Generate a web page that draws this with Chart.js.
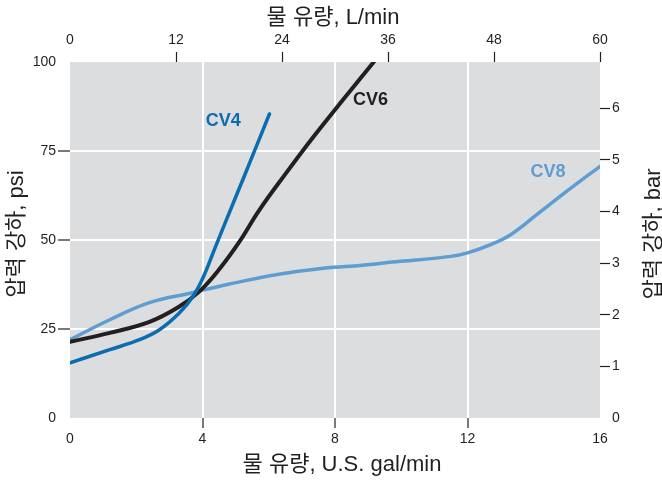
<!DOCTYPE html>
<html><head><meta charset="utf-8">
<script src="https://cdn.jsdelivr.net/npm/chart.js@4"></script>
<style>html,body{margin:0;padding:0;background:#fff}#w{width:662px;height:482px}</style>
</head><body><div id="w"><canvas id="c" width="662" height="482"></canvas></div>
<script>
// Data (x: U.S. gal/min, y: psi)
const cv4X = [0, 1.2, 2.1, 2.7, 3.3, 3.7, 4.03, 4.4, 5.0, 5.5, 6.02];
const cv4Y = [15.5, 19.2, 22, 24.8, 29.5, 34, 39.7, 48.3, 62, 73.4, 85.4];
const cv6X = [0, 1.2, 2.4, 3.3, 3.9, 4.5, 5.1, 5.7, 6.5, 7.35, 8.26, 9.17];
const cv6Y = [21.4, 23.9, 27, 31.3, 35.5, 41.7, 49.3, 58.2, 68.5, 79.0, 89.6, 100];
const cv8X = [0, 1.2, 2.4, 3.7, 4.75, 6.26, 7.77, 8.47, 9.98, 11.5, 12, 12.7, 13.3, 14.1, 15.0, 16.0];
const cv8Y = [22, 27.6, 32.4, 35.2, 37.5, 40.3, 42.2, 42.6, 44, 45.4, 46.4, 48.7, 51.5, 57.2, 63.7, 70.7];
const seriesNames = ['CV4', 'CV6', 'CV8'];
const labelX = [4.63, 9.07, 14.43];
const labelY = [83.4, 89.3, 69.0];
const bottomTicks = [0, 4, 8, 12, 16];
const leftTicks = [0, 25, 50, 75, 100];
const topTicks = [0, 12, 24, 36, 48, 60];
const rightTicks = [0, 1, 2, 3, 4, 5, 6];
const titleTop = '물 유량, L/min';
const titleBottom = '물 유량, U.S. gal/min';
const titleLeft = '압력 강하, psi';
const titleRight = '압력 강하, bar';

const colors = ['#0b6cae', '#231f20', '#5e9dd2'];
const FONT = '"Liberation Sans", Arial, "Noto Sans CJK KR", sans-serif';
const TFONT = '"Liberation Sans", "Noto Sans CJK KR", sans-serif';
const ink = '#231f20';

function pts(xs, ys) { return xs.map((x, i) => ({x: x, y: ys[i]})); }

const bgPlugin = {
  id: 'bg',
  beforeDraw(chart) {
    const {ctx, chartArea: a} = chart;
    ctx.save();
    ctx.fillStyle = '#dcdddf';
    ctx.fillRect(a.left, a.top, a.right - a.left, a.bottom - a.top);
    ctx.restore();
  },
  afterDraw(chart) {
    const ctx = chart.ctx;
    const xs = chart.scales.x, ys = chart.scales.y;
    ctx.save();
    ctx.font = 'bold 18px ' + FONT;
    ctx.textAlign = 'center';
    ctx.textBaseline = 'middle';
    seriesNames.forEach((n, i) => {
      ctx.fillStyle = colors[i];
      ctx.fillText(n, xs.getPixelForValue(labelX[i]), ys.getPixelForValue(labelY[i]));
    });
    ctx.fillStyle = ink;
    ctx.font = '22px ' + TFONT;
    ctx.fillText(titleTop, 333, 18);
    ctx.fillText(titleBottom, 342, 465);
    ctx.save();
    ctx.translate(17, 234);
    ctx.rotate(-Math.PI / 2);
    ctx.fillText(titleLeft, 0, 0);
    ctx.restore();
    ctx.save();
    ctx.translate(654, 234);
    ctx.rotate(-Math.PI / 2);
    ctx.fillText(titleRight, 0, 0);
    ctx.restore();
    ctx.restore();
  }
};

const interior = (lo, hi, c) => (ctx) => (ctx.tick && ctx.tick.value > lo && ctx.tick.value < hi) ? c : 'rgba(0,0,0,0)';
const tickFont = {family: FONT, size: 14};

new Chart(document.getElementById('c'), {
  type: 'line',
  data: {
    datasets: [
      {label: 'CV4', data: pts(cv4X, cv4Y), borderColor: colors[0], borderWidth: 3.5, xAxisID: 'x', yAxisID: 'y'},
      {label: 'CV6', data: pts(cv6X, cv6Y), borderColor: colors[1], borderWidth: 4, xAxisID: 'x', yAxisID: 'y'},
      {label: 'CV8', data: pts(cv8X, cv8Y), borderColor: colors[2], borderWidth: 3.5, xAxisID: 'x', yAxisID: 'y'}
    ]
  },
  options: {
    responsive: false,
    animation: false,
    events: [],
    layout: {padding: 0},
    elements: {
      point: {radius: 0},
      line: {tension: 0.4, fill: false, borderCapStyle: 'round', borderJoinStyle: 'round'}
    },
    plugins: {legend: {display: false}, tooltip: {enabled: false}},
    scales: {
      x: {
        type: 'linear', position: 'bottom', min: 0, max: 16,
        afterBuildTicks: s => { s.ticks = bottomTicks.map(v => ({value: v})); },
        afterFit: s => { s.height = 64; },
        border: {display: false},
        grid: {color: interior(0, 16, '#ffffff'), lineWidth: 2, tickColor: interior(0, 16, ink), tickLength: 10, tickWidth: 1.2},
        ticks: {color: ink, font: tickFont, padding: 3, maxRotation: 0}
      },
      y: {
        type: 'linear', position: 'left', min: 0, max: 100,
        afterBuildTicks: s => { s.ticks = leftTicks.map(v => ({value: v})); },
        afterFit: s => { s.width = 70; },
        border: {display: false},
        grid: {color: interior(0, 100, '#ffffff'), lineWidth: 2, tickColor: interior(0, 100, ink), tickLength: 12, tickWidth: 1.2},
        ticks: {color: ink, font: tickFont, padding: 2}
      },
      x2: {
        type: 'linear', position: 'top', min: 0, max: 60,
        afterBuildTicks: s => { s.ticks = topTicks.map(v => ({value: v})); },
        afterFit: s => { s.height = 62; },
        border: {display: false},
        grid: {drawOnChartArea: false, tickColor: interior(0, 61, ink), tickLength: 10, tickWidth: 1.2},
        ticks: {color: ink, font: tickFont, padding: 3, maxRotation: 0}
      },
      y2: {
        type: 'linear', position: 'right', min: 0, max: 6.895,
        afterBuildTicks: s => { s.ticks = rightTicks.map(v => ({value: v})); },
        afterFit: s => { s.width = 62; },
        border: {display: false},
        grid: {drawOnChartArea: false, tickColor: interior(0, 7, ink), tickLength: 10, tickWidth: 1.2},
        ticks: {color: ink, font: tickFont, padding: 2}
      }
    }
  },
  plugins: [bgPlugin]
});
</script>
</body></html>
